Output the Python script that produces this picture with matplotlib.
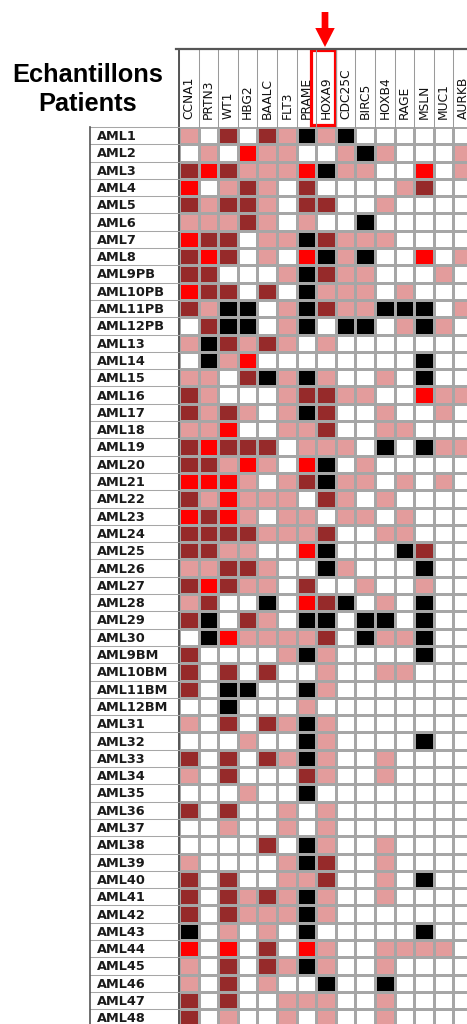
import numpy as np
import matplotlib
matplotlib.use("Agg")
import matplotlib.pyplot as plt
from matplotlib.colors import ListedColormap, BoundaryNorm
from matplotlib.patches import Rectangle, FancyArrow

genes = ["CCNA1", "PRTN3", "WT1", "HBG2", "BAALC", "FLT3", "PRAME", "HOXA9",
         "CDC25C", "BIRC5", "HOXB4", "RAGE", "MSLN", "MUC1", "AURKB"]

samples = ["AML1", "AML2", "AML3", "AML4", "AML5", "AML6", "AML7", "AML8",
           "AML9PB", "AML10PB", "AML11PB", "AML12PB", "AML13", "AML14", "AML15",
           "AML16", "AML17", "AML18", "AML19", "AML20", "AML21", "AML22", "AML23",
           "AML24", "AML25", "AML26", "AML27", "AML28", "AML29", "AML30",
           "AML9BM", "AML10BM", "AML11BM", "AML12BM", "AML31", "AML32", "AML33",
           "AML34", "AML35", "AML36", "AML37", "AML38", "AML39", "AML40", "AML41",
           "AML42", "AML43", "AML44", "AML45", "AML46", "AML47", "AML48"]

# expression level per cell: 0 none, 1 low, 2 medium, 3 high, 4 very high
levels = [
    [1, 0, 2, 0, 2, 1, 4, 1, 4, 0, 0, 0, 0, 0, 0],
    [0, 1, 0, 3, 1, 1, 0, 0, 1, 4, 1, 0, 0, 0, 1],
    [2, 3, 2, 1, 1, 1, 3, 4, 1, 1, 0, 0, 3, 0, 1],
    [3, 0, 1, 2, 1, 0, 2, 0, 0, 0, 0, 1, 2, 0, 0],
    [2, 1, 2, 2, 1, 0, 2, 2, 0, 0, 1, 0, 0, 0, 0],
    [1, 1, 1, 2, 1, 0, 1, 0, 0, 4, 0, 0, 0, 0, 0],
    [3, 2, 2, 0, 1, 1, 4, 2, 1, 1, 1, 0, 0, 0, 0],
    [2, 3, 2, 0, 1, 0, 3, 4, 1, 4, 0, 0, 3, 0, 1],
    [2, 2, 0, 0, 0, 1, 4, 2, 1, 1, 0, 0, 0, 1, 0],
    [3, 2, 2, 0, 2, 0, 4, 1, 1, 1, 0, 1, 0, 0, 0],
    [2, 1, 4, 4, 0, 1, 4, 2, 1, 1, 4, 4, 4, 0, 1],
    [0, 2, 4, 4, 0, 1, 4, 0, 4, 4, 0, 1, 4, 1, 0],
    [1, 4, 2, 1, 2, 1, 0, 1, 0, 0, 0, 0, 0, 0, 0],
    [0, 4, 1, 3, 0, 0, 0, 0, 0, 0, 0, 0, 4, 0, 0],
    [1, 1, 0, 2, 4, 1, 4, 1, 0, 0, 1, 0, 4, 0, 0],
    [2, 1, 0, 0, 0, 1, 2, 2, 1, 1, 0, 0, 3, 1, 1],
    [2, 1, 2, 1, 0, 1, 4, 2, 0, 0, 1, 0, 0, 1, 0],
    [1, 1, 3, 0, 0, 1, 1, 2, 0, 0, 1, 1, 0, 0, 0],
    [2, 3, 2, 2, 2, 0, 1, 1, 1, 0, 4, 0, 4, 1, 1],
    [2, 2, 1, 3, 1, 0, 3, 4, 0, 1, 0, 0, 0, 0, 0],
    [3, 3, 3, 1, 0, 1, 2, 4, 1, 1, 0, 1, 0, 1, 0],
    [2, 1, 3, 1, 1, 1, 0, 2, 1, 0, 1, 0, 0, 0, 0],
    [3, 2, 3, 1, 0, 1, 1, 0, 1, 1, 0, 1, 0, 0, 0],
    [2, 2, 2, 2, 1, 1, 1, 2, 0, 0, 1, 1, 0, 0, 0],
    [2, 2, 1, 1, 0, 0, 3, 4, 0, 0, 0, 4, 2, 0, 0],
    [1, 1, 2, 2, 1, 0, 0, 4, 1, 0, 0, 0, 4, 0, 0],
    [2, 3, 2, 1, 1, 0, 2, 0, 0, 1, 0, 0, 1, 0, 0],
    [1, 2, 0, 0, 4, 0, 3, 2, 4, 0, 1, 0, 4, 0, 0],
    [2, 4, 0, 2, 1, 0, 4, 4, 0, 4, 4, 0, 4, 0, 0],
    [0, 4, 3, 1, 1, 1, 1, 2, 0, 4, 1, 1, 4, 0, 0],
    [2, 0, 0, 0, 0, 1, 4, 1, 0, 0, 0, 0, 4, 0, 0],
    [2, 0, 2, 0, 2, 0, 0, 1, 0, 0, 1, 1, 0, 0, 0],
    [2, 0, 4, 4, 0, 0, 4, 1, 0, 0, 0, 0, 0, 0, 0],
    [0, 0, 4, 0, 0, 0, 1, 0, 0, 0, 0, 0, 0, 0, 0],
    [1, 0, 2, 0, 2, 1, 4, 1, 0, 0, 0, 0, 0, 0, 0],
    [0, 0, 0, 1, 0, 0, 4, 1, 0, 0, 0, 0, 4, 0, 0],
    [2, 0, 2, 0, 2, 1, 4, 1, 0, 0, 1, 0, 0, 0, 0],
    [1, 0, 2, 0, 0, 0, 2, 1, 0, 0, 1, 0, 0, 0, 0],
    [0, 0, 0, 1, 0, 0, 4, 0, 0, 0, 0, 0, 0, 0, 0],
    [2, 0, 2, 0, 0, 1, 0, 1, 0, 0, 0, 0, 0, 0, 0],
    [0, 0, 1, 0, 0, 1, 0, 1, 0, 0, 0, 0, 0, 0, 0],
    [0, 0, 0, 0, 2, 0, 4, 1, 0, 0, 1, 0, 0, 0, 0],
    [1, 0, 0, 0, 0, 1, 4, 2, 0, 0, 1, 0, 0, 0, 0],
    [2, 0, 2, 0, 0, 1, 1, 2, 0, 0, 1, 0, 4, 0, 0],
    [2, 0, 2, 1, 2, 1, 4, 1, 0, 0, 1, 0, 0, 0, 0],
    [2, 0, 2, 1, 1, 1, 4, 1, 0, 0, 0, 0, 0, 0, 0],
    [4, 0, 1, 0, 1, 0, 4, 0, 0, 0, 0, 0, 4, 0, 0],
    [3, 0, 3, 0, 2, 0, 3, 1, 0, 0, 1, 1, 1, 1, 0],
    [1, 0, 2, 0, 2, 1, 4, 1, 0, 0, 1, 0, 0, 0, 0],
    [1, 0, 2, 0, 1, 0, 0, 4, 0, 0, 4, 0, 0, 0, 0],
    [2, 0, 2, 0, 0, 1, 1, 1, 0, 0, 1, 0, 0, 0, 0],
    [2, 0, 1, 0, 0, 1, 0, 1, 0, 0, 1, 0, 0, 0, 0],
]

level_colors = ["#ffffff", "#e39c9c", "#962a2a", "#ff0000", "#000000"]

W, H = 467, 1024
fig = plt.figure(figsize=(W / 100, H / 100), dpi=100)

# grid geometry in pixels
x0, y0 = 179, 127
cw, rh = 19.6, 17.3
n_rows, n_cols = len(samples), len(genes)
ax = fig.add_axes([x0 / W, 1 - (y0 + n_rows * rh) / H, n_cols * cw / W, n_rows * rh / H])

cmap = ListedColormap(level_colors)
norm = BoundaryNorm(np.arange(-0.5, 5.5, 1), cmap.N)
ax.pcolormesh(np.arange(n_cols + 1), np.arange(n_rows + 1), np.array(levels),
              cmap=cmap, norm=norm, edgecolors="#a6a6a6", linewidth=0.75)
ax.set_xlim(0, n_cols)
ax.set_ylim(n_rows, 0)
ax.axis("off")

def px_x(p):
    return (p - x0) / cw

def px_y(p):
    return (p - y0) / rh

head_top = px_y(49)
lab_left = px_x(90)

# header column separators and top border
for i in range(n_cols + 1):
    ax.plot([i, i], [head_top, 0], color="#9a9a9a", lw=0.75, clip_on=False)
ax.plot([px_x(176), n_cols], [head_top, head_top], color="#555555", lw=1.6, clip_on=False)
ax.plot([0, 0], [head_top, n_rows], color="#555555", lw=1.4, clip_on=False)

# row label area
for j in range(n_rows + 1):
    ax.plot([lab_left, 0], [j, j], color="#a6a6a6", lw=0.75, clip_on=False)
ax.plot([lab_left, lab_left], [0, n_rows], color="#555555", lw=1.2, clip_on=False)

for j, s in enumerate(samples):
    ax.text(px_x(97), j + 0.55, s, ha="left", va="center", fontsize=9.3,
            fontweight="bold", color="#1a1a1a", family="DejaVu Sans", clip_on=False)

for i, g in enumerate(genes):
    ax.text(i + 0.5, px_y(119), g, rotation=90, ha="center", va="bottom",
            fontsize=8.8, color="#111111", family="DejaVu Sans", clip_on=False)

# highlight HOXA9
ax.add_patch(Rectangle((px_x(310.5), px_y(50.5)), px_x(334.5) - px_x(310.5),
                       px_y(125.5) - px_y(50.5), fill=False, edgecolor="#ff0000",
                       lw=2.3, clip_on=False))
ax.add_patch(FancyArrow(px_x(325), px_y(12), 0, px_y(47) - px_y(12),
                        width=6.7 / cw, head_width=19.5 / cw, head_length=19 / rh,
                        length_includes_head=True, color="#ff0000", lw=0, clip_on=False))

fig.text(87.5 / W, 1 - 82 / H, "Echantillons", ha="center", va="baseline",
         fontsize=18.3, fontweight="bold", family="Liberation Sans")
fig.text(87.5 / W, 1 - 111 / H, "Patients", ha="center", va="baseline",
         fontsize=18.3, fontweight="bold", family="Liberation Sans")

fig.savefig("out.png", dpi=100, facecolor="white")
